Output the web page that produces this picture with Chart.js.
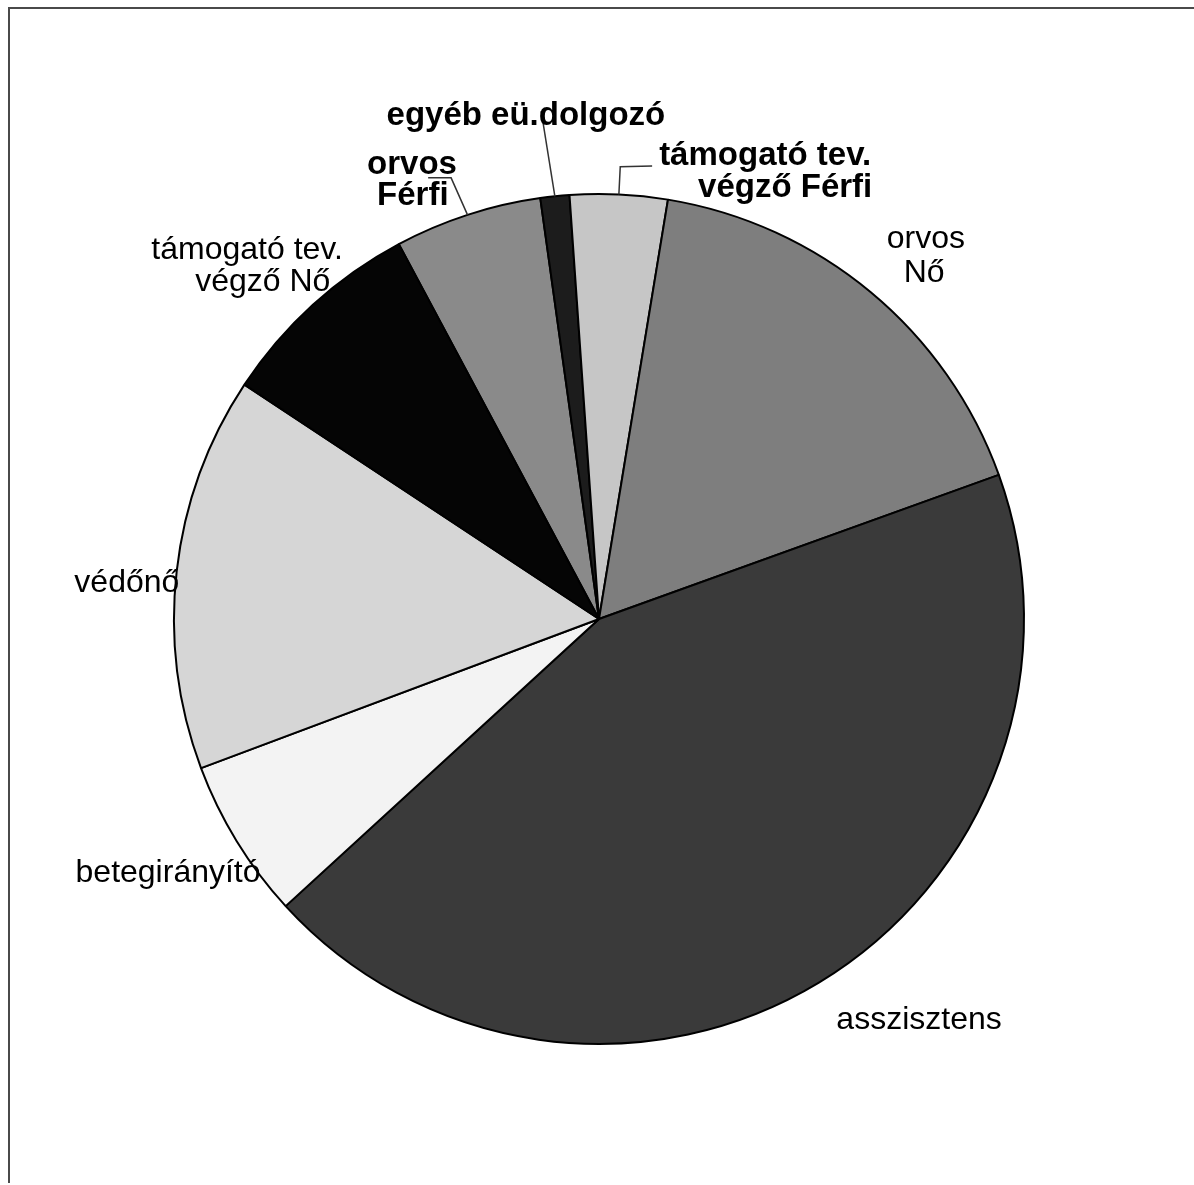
<!DOCTYPE html>
<html>
<head>
<meta charset="utf-8">
<script src="https://cdn.jsdelivr.net/npm/chart.js@4.4.1/dist/chart.umd.min.js"></script>
<style>
    html, body { margin: 0; padding: 0; background: #fff; }
    #wrap { position: relative; width: 1194px; height: 1185px; }
    #frame {
        position: absolute; left: 8px; top: 7px; right: 0; bottom: 2px;
        border-left: 2px solid #4a4a4a; border-top: 2px solid #4a4a4a;
        pointer-events: none;
    }
</style>
</head>
<body>
<div id="wrap">
    <canvas id="staffPie"></canvas>
    <div id="frame"></div>
</div>
<script>
// staff categories, clockwise from the "orvos Férfi" slice
const categories = [
    'orvos Férfi',
    'egyéb eü.dolgozó',
    'támogató tev. végző Férfi',
    'orvos Nő',
    'asszisztens',
    'betegirányító',
    'védőnő',
    'támogató tev. végző Nő'
];
// share of staff, %
const shares = [5.6, 1.1, 3.7, 16.9, 43.7, 6.1, 15.0, 7.9];
const sliceColors = ['#8a8a8a', '#1c1c1c', '#c6c6c6', '#7e7e7e', '#3a3a3a', '#f3f3f3', '#d6d6d6', '#050505'];

// label text, centre of each line and leader path, in units of the pie radius from its centre
const labelLayout = [
    { bold: true, lines: [['orvos', -0.440, -1.068], ['Férfi', -0.438, -0.995]],
      leader: [[-0.348, -1.038], [-0.402, -1.038]] },
    { bold: true, lines: [['egyéb eü.dolgozó', -0.172, -1.184]],
      leader: [[-0.136, -1.195]] },
    { bold: true, lines: [['támogató tev.', 0.391, -1.089], ['végző Férfi', 0.438, -1.014]],
      leader: [[0.05, -1.064], [0.125, -1.066]] },
    { bold: false, lines: [['orvos', 0.769, -0.894], ['Nő', 0.765, -0.814]] },
    { bold: false, lines: [['asszisztens', 0.753, 0.943]] },
    { bold: false, lines: [['betegirányító', -1.014, 0.598]] },
    { bold: false, lines: [['védőnő', -1.111, -0.085]] },
    { bold: false, lines: [['támogató tev.', -0.828, -0.868], ['végző Nő', -0.791, -0.793]] }
];

const sliceLabels = {
    id: 'sliceLabels',
    afterDatasetsDraw(chart) {
        const ctx = chart.ctx;
        chart.getDatasetMeta(0).data.forEach((arc, i) => {
            const { x, y, outerRadius, startAngle, endAngle } =
                arc.getProps(['x', 'y', 'outerRadius', 'startAngle', 'endAngle'], true);
            const r = outerRadius;
            const lay = labelLayout[i];
            ctx.save();
            if (lay.leader) {
                const mid = (startAngle + endAngle) / 2;
                ctx.beginPath();
                ctx.moveTo(x + r * Math.cos(mid), y + r * Math.sin(mid));
                lay.leader.forEach(([fx, fy]) => ctx.lineTo(x + fx * r, y + fy * r));
                ctx.strokeStyle = '#333';
                ctx.lineWidth = 1.5;
                ctx.stroke();
            }
            ctx.fillStyle = '#000';
            ctx.textAlign = 'center';
            ctx.textBaseline = 'middle';
            ctx.font = lay.bold ? 'bold 33px "Liberation Sans", Arial, sans-serif'
                                : '32px "Liberation Sans", Arial, sans-serif';
            lay.lines.forEach(([txt, fx, fy]) => ctx.fillText(txt, x + fx * r, y + fy * r));
            ctx.restore();
        });
    }
};

new Chart(document.getElementById('staffPie'), {
    type: 'pie',
    data: {
        labels: categories,
        datasets: [{
            data: shares,
            backgroundColor: sliceColors,
            borderColor: '#000',
            borderWidth: 2,
            borderAlign: 'center'
        }]
    },
    options: {
        responsive: true,
        maintainAspectRatio: false,
        animation: false,
        rotation: -28.1,
        layout: { padding: { left: 173, right: 169, top: 193, bottom: 140 } },
        plugins: {
            legend: { display: false },
            tooltip: { enabled: false }
        }
    },
    plugins: [sliceLabels]
});
</script>
</body>
</html>
